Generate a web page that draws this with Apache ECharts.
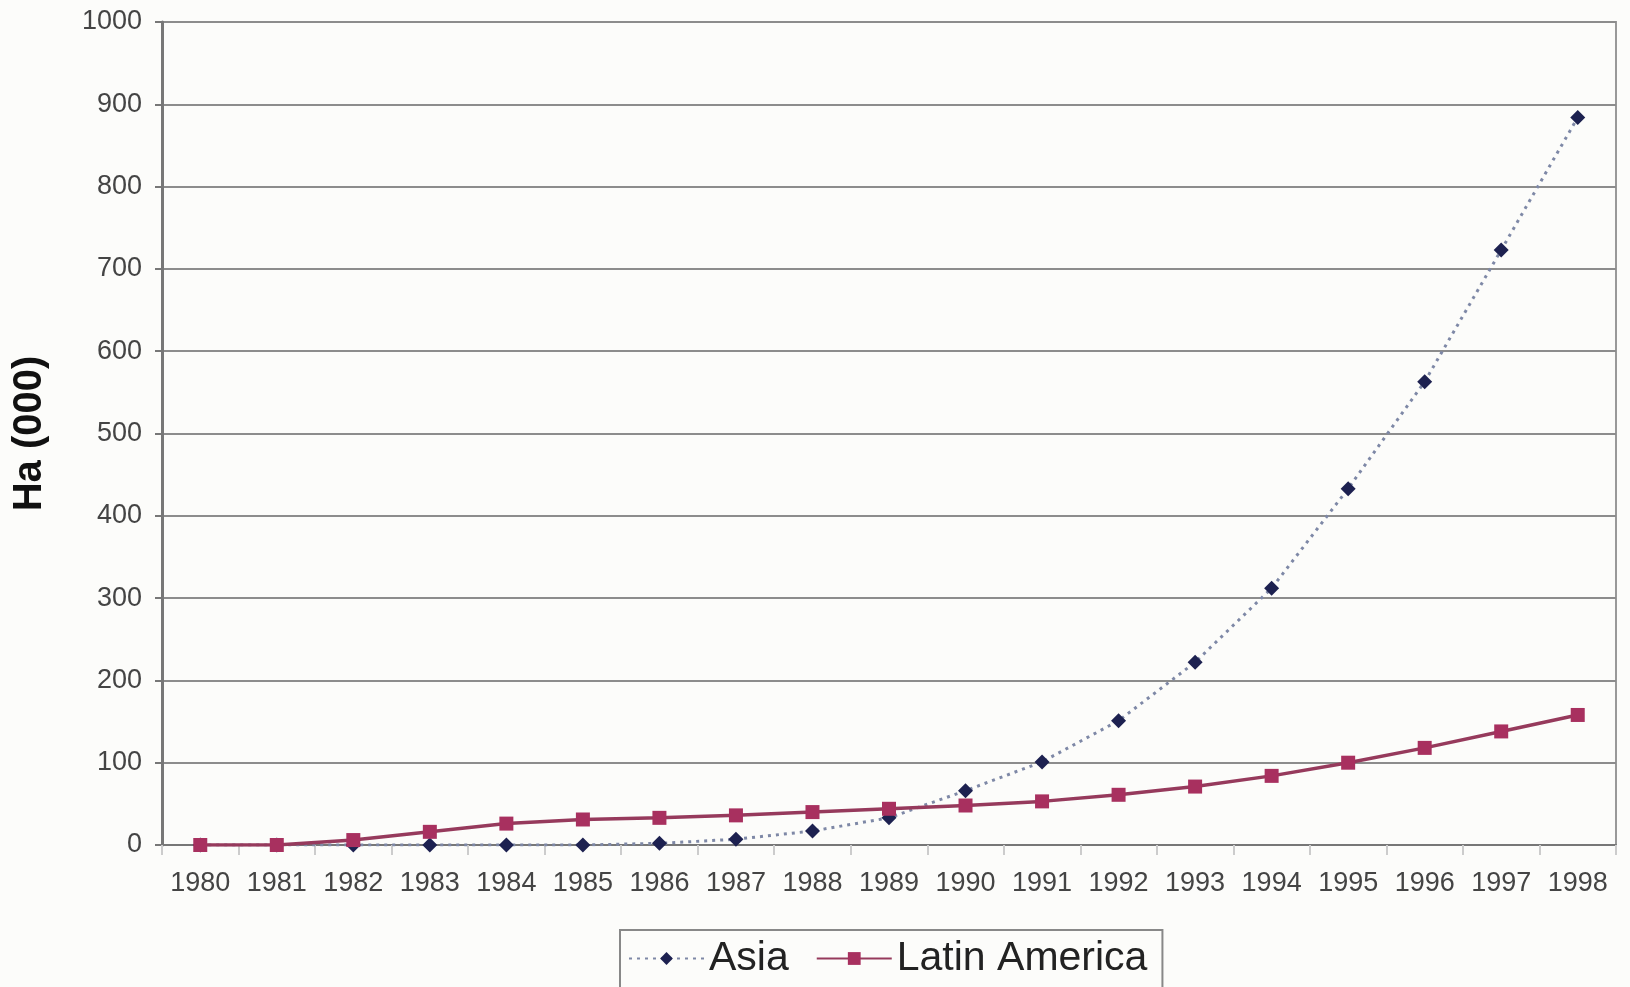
<!DOCTYPE html>
<html>
<head>
<meta charset="utf-8">
<script src="https://cdn.jsdelivr.net/npm/echarts@6/dist/echarts.min.js"></script>
<style>
  html, body { margin: 0; padding: 0; background: #fcfcfa; }
  #main { width: 1630px; height: 987px; }
</style>
</head>
<body>
<div id="main"></div>
<script>
const years = ['1980', '1981', '1982', '1983', '1984', '1985', '1986', '1987', '1988', '1989',
  '1990', '1991', '1992', '1993', '1994', '1995', '1996', '1997', '1998']
const asia = [0, 0, 0, 0, 0, 0, 2, 7, 17, 33, 66, 101, 151, 222, 312, 433, 563, 723, 884]
const latinAmerica = [0, 0, 6, 16, 26, 31, 33, 36, 40, 44, 48, 53, 61, 71, 84, 100, 118, 138, 158]

const chart = echarts.init(document.getElementById('main'))

const option = {
  backgroundColor: '#fcfcfa',
  animation: false,
  textStyle: { fontFamily: 'Liberation Sans, Arial, sans-serif' },
  grid: {
    left: 162,
    right: 14,
    top: 22,
    bottom: 142,
    show: true,
    borderColor: '#999',
    borderWidth: 2
  },
  legend: {
    left: 620,
    top: 930,
    padding: [8, 15, 30, 8],
    itemGap: 27,
    itemWidth: 75,
    itemHeight: 16,
    borderColor: '#888',
    borderWidth: 2,
    backgroundColor: '#fcfcfa',
    textStyle: { fontSize: 41, color: '#222' },
    data: ['Asia', 'Latin America']
  },
  xAxis: {
    type: 'category',
    data: years,
    boundaryGap: true,
    axisLine: { lineStyle: { color: '#777', width: 2 } },
    axisTick: { show: true, length: 10, interval: 0, lineStyle: { color: '#ccc', width: 2 } },
    axisLabel: { fontSize: 27, color: '#444', margin: 25, interval: 0 }
  },
  yAxis: {
    type: 'value',
    min: 0,
    max: 1000,
    interval: 100,
    name: 'Ha (000)',
    nameLocation: 'middle',
    nameGap: 112,
    nameTextStyle: { fontSize: 40, fontWeight: 'bold', color: '#111' },
    axisLine: { show: true, lineStyle: { color: '#777', width: 3 } },
    axisTick: { show: true, length: 7, lineStyle: { color: '#777', width: 2 } },
    axisLabel: { fontSize: 27, color: '#444', margin: 20, formatter: v => String(v) },
    splitLine: { lineStyle: { color: '#8c8c8c', width: 2 } }
  },
  series: [
    {
      name: 'Asia',
      type: 'line',
      data: asia,
      symbol: 'diamond',
      symbolSize: 15,
      itemStyle: { color: '#1d2150' },
      lineStyle: { color: '#7e88a6', width: 3, type: [3, 5] },
      z: 2
    },
    {
      name: 'Latin America',
      type: 'line',
      data: latinAmerica,
      symbol: 'rect',
      symbolSize: 14,
      itemStyle: { color: '#a8305f' },
      lineStyle: { color: '#963a5c', width: 3.5 },
      z: 3
    }
  ]
}

chart.setOption(option)
</script>
</body>
</html>
